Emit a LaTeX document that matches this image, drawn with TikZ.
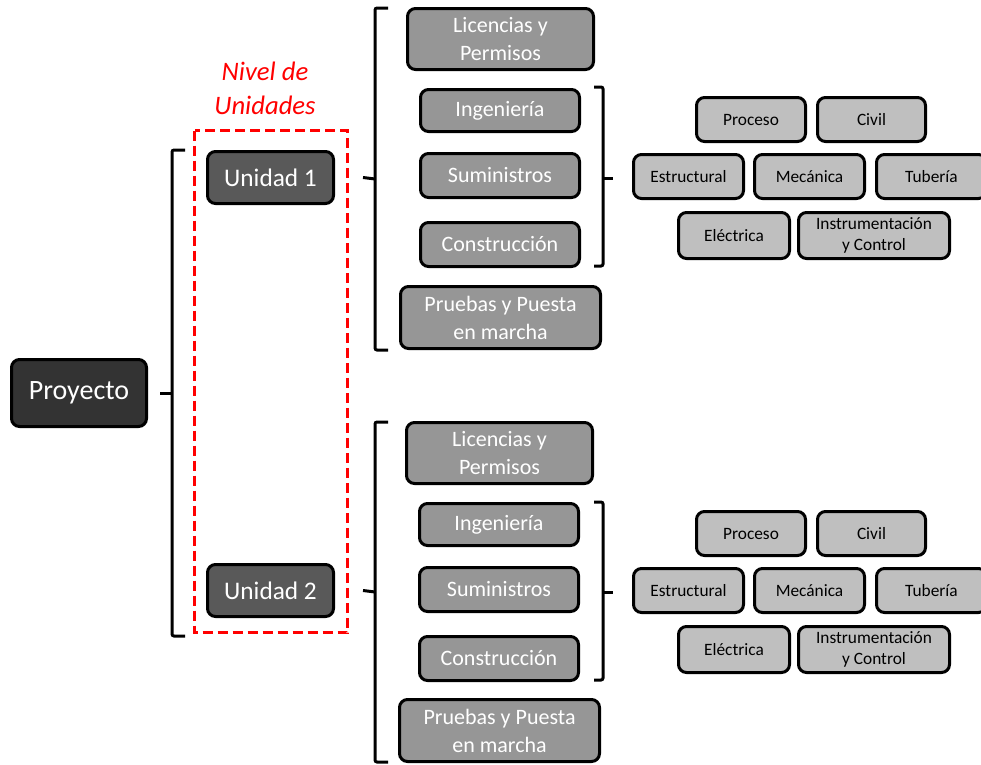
\documentclass[tikz,border=0pt]{standalone}
\usepackage{fontspec}
\setmainfont{Carlito}
\definecolor{c1}{HTML}{333333}
\definecolor{c2}{HTML}{595959}
\definecolor{c3}{HTML}{969696}
\definecolor{c4}{HTML}{BFBFBF}
\definecolor{red1}{HTML}{FF0000}
\tikzset{
 base/.style={draw=black, line width=2.25pt, rounded corners=6pt, align=center, inner sep=0pt, text=white},
 sz/.style 2 args={minimum width=#1*0.75pt, minimum height=#2*0.75pt},
 topbox/.style={base, fill=c1, font=\fontsize{21}{24}\selectfont},
 unitbox/.style={base, fill=c2, font=\fontsize{19}{22}\selectfont},
 lvlbox/.style={base, fill=c3, font=\fontsize{16.5}{21}\selectfont},
 discbox/.style={base, fill=c4, text=black, font=\fontsize{13}{15.75}\selectfont},
 brk/.style={line width=2.25pt, rounded corners=1.5pt},
}
\begin{document}
\begin{tikzpicture}[x=0.75pt,y=-0.75pt]
\useasboundingbox (0,0) rectangle (981,764);
% level 0 and 1
\node[topbox, sz={135}{67}] (proy) at (79,393) {Proyecto};
\node[unitbox, sz={126}{52}] (u1) at (270.5,177.5) {Unidad 1};
\node[unitbox, sz={126}{52}] (u2) at (270.5,590.5) {Unidad 2};
% dashed frame and label
\draw[red1, line width=2.25pt, dash pattern=on 7.5pt off 3.75pt] (194.5,130.5) rectangle (347.5,632.5);
\node[red1, align=center, font=\fontsize{20}{25.5}\selectfont\itshape] (nivel) at (265,88) {Nivel de\\Unidades};
% bracket from Proyecto
\draw[brk] (185,150) -- (172,150) -- (172,636) -- (185,636);
\draw[brk] ([xshift=9pt]proy.east) -- (172,393);
% unit 1 children
\node[lvlbox, sz={186}{61}] (lic1) at (500.5,39) {Licencias y\\Permisos};
\node[lvlbox, sz={159}{42}] (ing1) at (500,110.5) {Ingeniería};
\node[lvlbox, sz={159}{44}] (sum1) at (500,175.5) {Suministros};
\node[lvlbox, sz={159}{44}] (con1) at (500,244.5) {Construcción};
\node[lvlbox, sz={200}{62}] (pru1) at (500.5,317.5) {Pruebas y Puesta\\en marcha};
\draw[brk] (388,8) -- (375,8) -- (375,350) -- (388,350);
\draw[brk] ([xshift=21pt]u1.east) -- (375,179);
\draw[brk] (594,87) -- (603,87) -- (603,266) -- (594,266);
\draw[brk] (603,178) -- (613,178);
% unit 1 disciplines
\node[discbox, sz={109}{44}] (pro1) at (751,119.5) {Proceso};
\node[discbox, sz={108}{44}] (civ1) at (871.5,119.5) {Civil};
\node[discbox, sz={110}{44}] (est1) at (688.5,176.5) {Estructural};
\node[discbox, sz={110}{44}] (mec1) at (809.5,176.5) {Mecánica};
\node[discbox, sz={110}{44}] (tub1) at (931.5,176.5) {Tubería};
\node[discbox, sz={111}{46}] (ele1) at (734,235.5) {Eléctrica};
\node[discbox, sz={151}{46}] (ins1) at (874,235.5) {Instrumentación\\y Control};
% unit 2 children
\node[lvlbox, sz={186}{61}] (lic2) at (499.5,453) {Licencias y\\Permisos};
\node[lvlbox, sz={159}{42}] (ing2) at (499,524.5) {Ingeniería};
\node[lvlbox, sz={159}{44}] (sum2) at (499,589.5) {Suministros};
\node[lvlbox, sz={159}{44}] (con2) at (499,658.5) {Construcción};
\node[lvlbox, sz={200}{62}] (pru2) at (499.5,730.5) {Pruebas y Puesta\\en marcha};
\draw[brk] (388,422) -- (375,422) -- (375,762) -- (388,762);
\draw[brk] ([xshift=21pt]u2.east) -- (375,592);
\draw[brk] (594,502) -- (603,502) -- (603,680) -- (594,680);
\draw[brk] (603,592) -- (613,592);
% unit 2 disciplines
\node[discbox, sz={109}{44}] (pro2) at (751,533.5) {Proceso};
\node[discbox, sz={108}{44}] (civ2) at (871.5,533.5) {Civil};
\node[discbox, sz={110}{44}] (est2) at (688.5,590.5) {Estructural};
\node[discbox, sz={110}{44}] (mec2) at (809.5,590.5) {Mecánica};
\node[discbox, sz={110}{44}] (tub2) at (931.5,590.5) {Tubería};
\node[discbox, sz={111}{46}] (ele2) at (734,649.5) {Eléctrica};
\node[discbox, sz={151}{46}] (ins2) at (874,649.5) {Instrumentación\\y Control};
\end{tikzpicture}
\end{document}
